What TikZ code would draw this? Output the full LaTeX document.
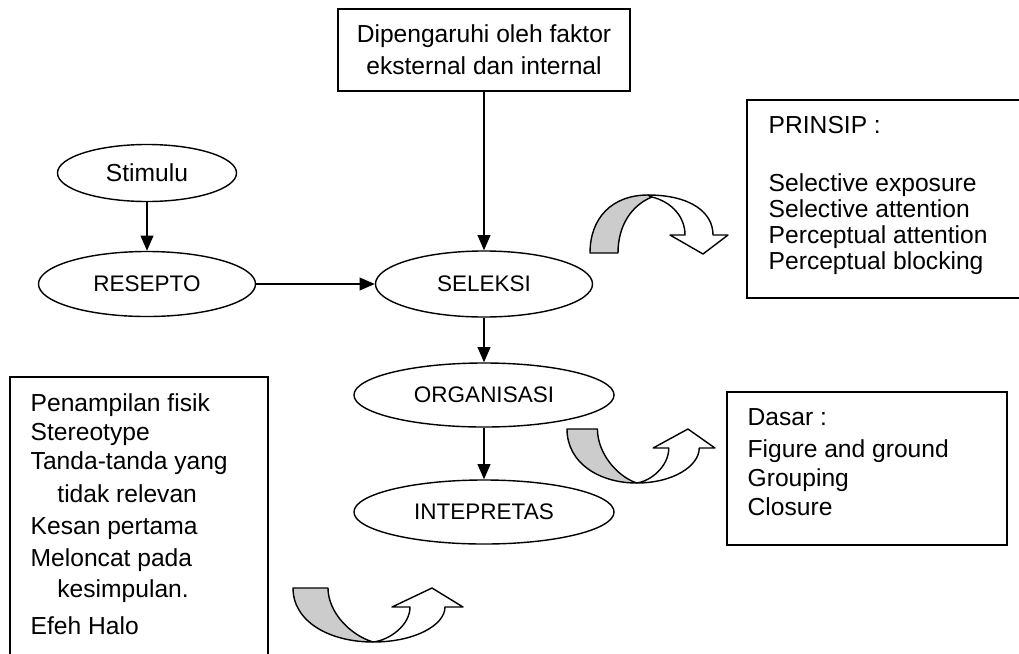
\documentclass[tikz,border=0pt]{standalone}
\usepackage{fontspec}
\setmainfont{Liberation Sans}
\usetikzlibrary{arrows.meta, shapes.geometric}

\begin{document}
\begin{tikzpicture}[
        x=0.025cm, y=-0.025cm,
        line width=1pt,
        >={Triangle[length=3.8mm, width=3.2mm]},
        every node/.style={align=center, font=\fontsize{17.5}{23}\selectfont},
        oval/.style={draw, ellipse, inner sep=0pt, font=\fontsize{16}{19}\selectfont},
        note/.style={align=left, anchor=north west, inner sep=0pt},
        band/.style={draw, line join=round}
    ]

    % Canvas
    \useasboundingbox (0,0) rectangle (1019,653);

    % Column positions
    \def\xleft{147}    % Stimulu / Resepto column
    \def\xmid{484}     % main process column

    % --- Main process ---
    \node[draw, minimum width=7.3cm, minimum height=2.05cm] (faktor) at (\xmid,50) {Dipengaruhi oleh faktor\\eksternal dan internal};
    \node[oval, minimum width=4.475cm, minimum height=1.425cm, font=\fontsize{17.5}{21}\selectfont] (stimulu) at (\xleft,173) {Stimulu};
    \node[oval, minimum width=5.425cm, minimum height=1.625cm] (resepto) at (\xleft,284) {RESEPTO};
    \node[oval, minimum width=5.425cm, minimum height=1.65cm] (seleksi) at (\xmid,284) {SELEKSI};
    \node[oval, minimum width=6.5cm, minimum height=1.6cm] (organisasi) at (\xmid,395) {ORGANISASI};
    \node[oval, minimum width=6.5cm, minimum height=1.6cm] (intepretas) at (\xmid,512) {INTEPRETAS};

    \draw[->] (faktor) -- (seleksi);
    \draw[->] (stimulu) -- (resepto);
    \draw[->] (resepto) -- (seleksi);
    \draw[->] (seleksi) -- (organisasi);
    \draw[->] (organisasi) -- (intepretas);

    % --- Side boxes ---
    \draw (747,100) rectangle (1030,298);
    \node[note, font=\fontsize{17.5}{18.4}\selectfont] (prinsip) at (768,116) {PRINSIP :\\[22.7pt]Selective exposure\\Selective attention\\Perceptual attention\\Perceptual blocking};

    \draw (727,392) rectangle (1007,545);
    \node[note, font=\fontsize{17.5}{20.6}\selectfont] (dasar) at (747,408) {Dasar :\\[2.1pt]Figure and ground\\Grouping\\Closure};

    \draw (10,377) rectangle (268,670);
    \node[note, font=\fontsize{17.5}{20.6}\selectfont] (kesalahan) at (30,393) {Penampilan fisik\\Stereotype\\Tanda-tanda yang\\[2.8pt]\hspace*{19pt}tidak relevan\\[2.1pt]Kesan pertama\\[2.1pt]Meloncat pada\\[1.4pt]\hspace*{19pt}kesimpulan.\\[5.7pt]Efeh Halo};

    % --- Curved arrows ---
    % curved down arrow (to PRINSIP)
    \draw[band, fill=black!20] (590,253) .. controls (590,218) and (612,195) .. (648,195) -- (652,197) .. controls (632,205) and (618,225) .. (618,253) -- cycle;
    \draw[band, fill=white] (648,195) .. controls (690,195) and (713,212) .. (713,235) -- (728,235) -- (703,254) -- (670,235) -- (685,235) .. controls (685,217) and (672,202) .. (652,197) -- cycle;

    % curved up arrows (to Dasar, and below INTEPRETAS)
    \foreach \sx/\sy/\xs in {567/429/0.87, 293/588/1} {
        \begin{scope}[shift={(\sx,\sy)}, xscale=\xs]
            \draw[band, fill=black!20] (0,0) -- (35,0) .. controls (35,24) and (57,47) .. (80,54) .. controls (37,54) and (0,34) .. (0,0) -- cycle;
            \draw[band, fill=white] (80,54) .. controls (122,54) and (152,37) .. (152,19) -- (170,19) -- (139,0) -- (99,19) -- (117,19) .. controls (117,37) and (97,52) .. (80,54) -- cycle;
        \end{scope}
    }

\end{tikzpicture}
\end{document}
